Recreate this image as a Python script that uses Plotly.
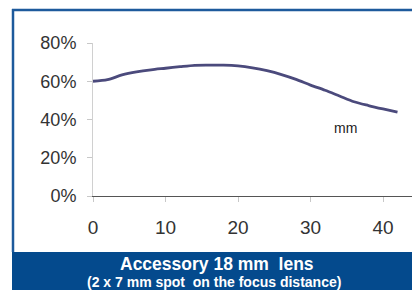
import plotly.graph_objects as go

distance_mm = [0, 2, 4, 6, 8, 10, 12, 14, 16, 18, 20, 22, 24, 26, 28, 30, 32, 34, 36, 38, 40, 42]
efficiency_pct = [60.0, 60.8, 63.3, 64.9, 66.0, 66.8, 67.6, 68.3, 68.4, 68.4, 68.0, 67.0,
                  65.5, 63.5, 61.0, 58.0, 55.3, 52.3, 49.3, 47.3, 45.5, 43.8]
x_ticks = [0, 10, 20, 30, 40]
y_ticks = [0, 20, 40, 60, 80]
y_tick_labels = ["0%", "20%", "40%", "60%", "80%"]
title_line1 = "Accessory 18 mm\u00a0 lens"
title_line2 = "(2 x 7 mm spot\u00a0 on the focus distance)"
unit_label = "mm"

W, H = 412, 290
L, R, T, B = 93, 0, 43, 94
pw, ph = W - L - R, H - T - B

def px_x(px):
    return (px - L) / pw

def px_y(py):
    return (H - B - py) / ph

fig = go.Figure()
fig.add_trace(go.Scatter(
    x=distance_mm, y=efficiency_pct, mode="lines",
    line=dict(color="#4b4a7c", width=2.8, shape="spline", smoothing=0.8),
    hoverinfo="skip", showlegend=False,
))

font_family = "Liberation Sans, Arial, sans-serif"

fig.update_layout(
    width=W, height=H,
    margin=dict(l=L, r=R, t=T, b=B, autoexpand=False),
    paper_bgcolor="white", plot_bgcolor="white",
    font=dict(family=font_family, color="#333333"),
    xaxis=dict(
        range=[0, 44], tickvals=x_ticks, ticktext=[str(v) for v in x_ticks],
        showgrid=False, zeroline=False, showline=True, linecolor="#555555", linewidth=1,
        ticks="outside", ticklen=5, tickcolor="#c8c8c8", tickwidth=1, automargin=False,
        tickfont=dict(size=19, color="#333333"), ticklabelstandoff=9,
    ),
    yaxis=dict(
        range=[0, 80], tickvals=y_ticks, ticktext=y_tick_labels,
        showgrid=False, zeroline=False, showline=True, linecolor="#d0d0d0", linewidth=1,
        ticks="outside", ticklen=5, tickcolor="#c8c8c8", tickwidth=1, automargin=False,
        tickfont=dict(size=18, color="#333333"), ticklabelstandoff=7,
    ),
    shapes=[
        dict(type="rect", xref="paper", yref="paper",
             x0=px_x(12), x1=px_x(430), y0=px_y(310), y1=px_y(252),
             fillcolor="#044a8d", line=dict(width=0), layer="above"),
        dict(type="line", xref="paper", yref="paper",
             x0=px_x(13), x1=px_x(13), y0=px_y(252), y1=px_y(9),
             line=dict(color="#1d5a9c", width=2.5)),
        dict(type="line", xref="paper", yref="paper",
             x0=px_x(12), x1=px_x(430), y0=px_y(10), y1=px_y(10),
             line=dict(color="#1d5a9c", width=2.5)),
    ],
    annotations=[
        dict(text=unit_label, x=34.8, y=35.6, xref="x", yref="y", showarrow=False,
             xanchor="center", yanchor="middle",
             font=dict(size=14, color="#222222")),
        dict(text="<b>" + title_line1 + "</b>", x=px_x(217), y=px_y(264), xref="paper", yref="paper",
             xanchor="center", yanchor="middle",
             showarrow=False, font=dict(size=17.5, color="white")),
        dict(text="<b>" + title_line2 + "</b>", x=px_x(214), y=px_y(281.5), xref="paper", yref="paper",
             xanchor="center", yanchor="middle",
             showarrow=False, font=dict(size=14, color="white")),
    ],
)

fig.write_html("out.html", config={"displayModeBar": False},
               post_script="document.body.style.margin='0';document.body.style.overflow='hidden';")
